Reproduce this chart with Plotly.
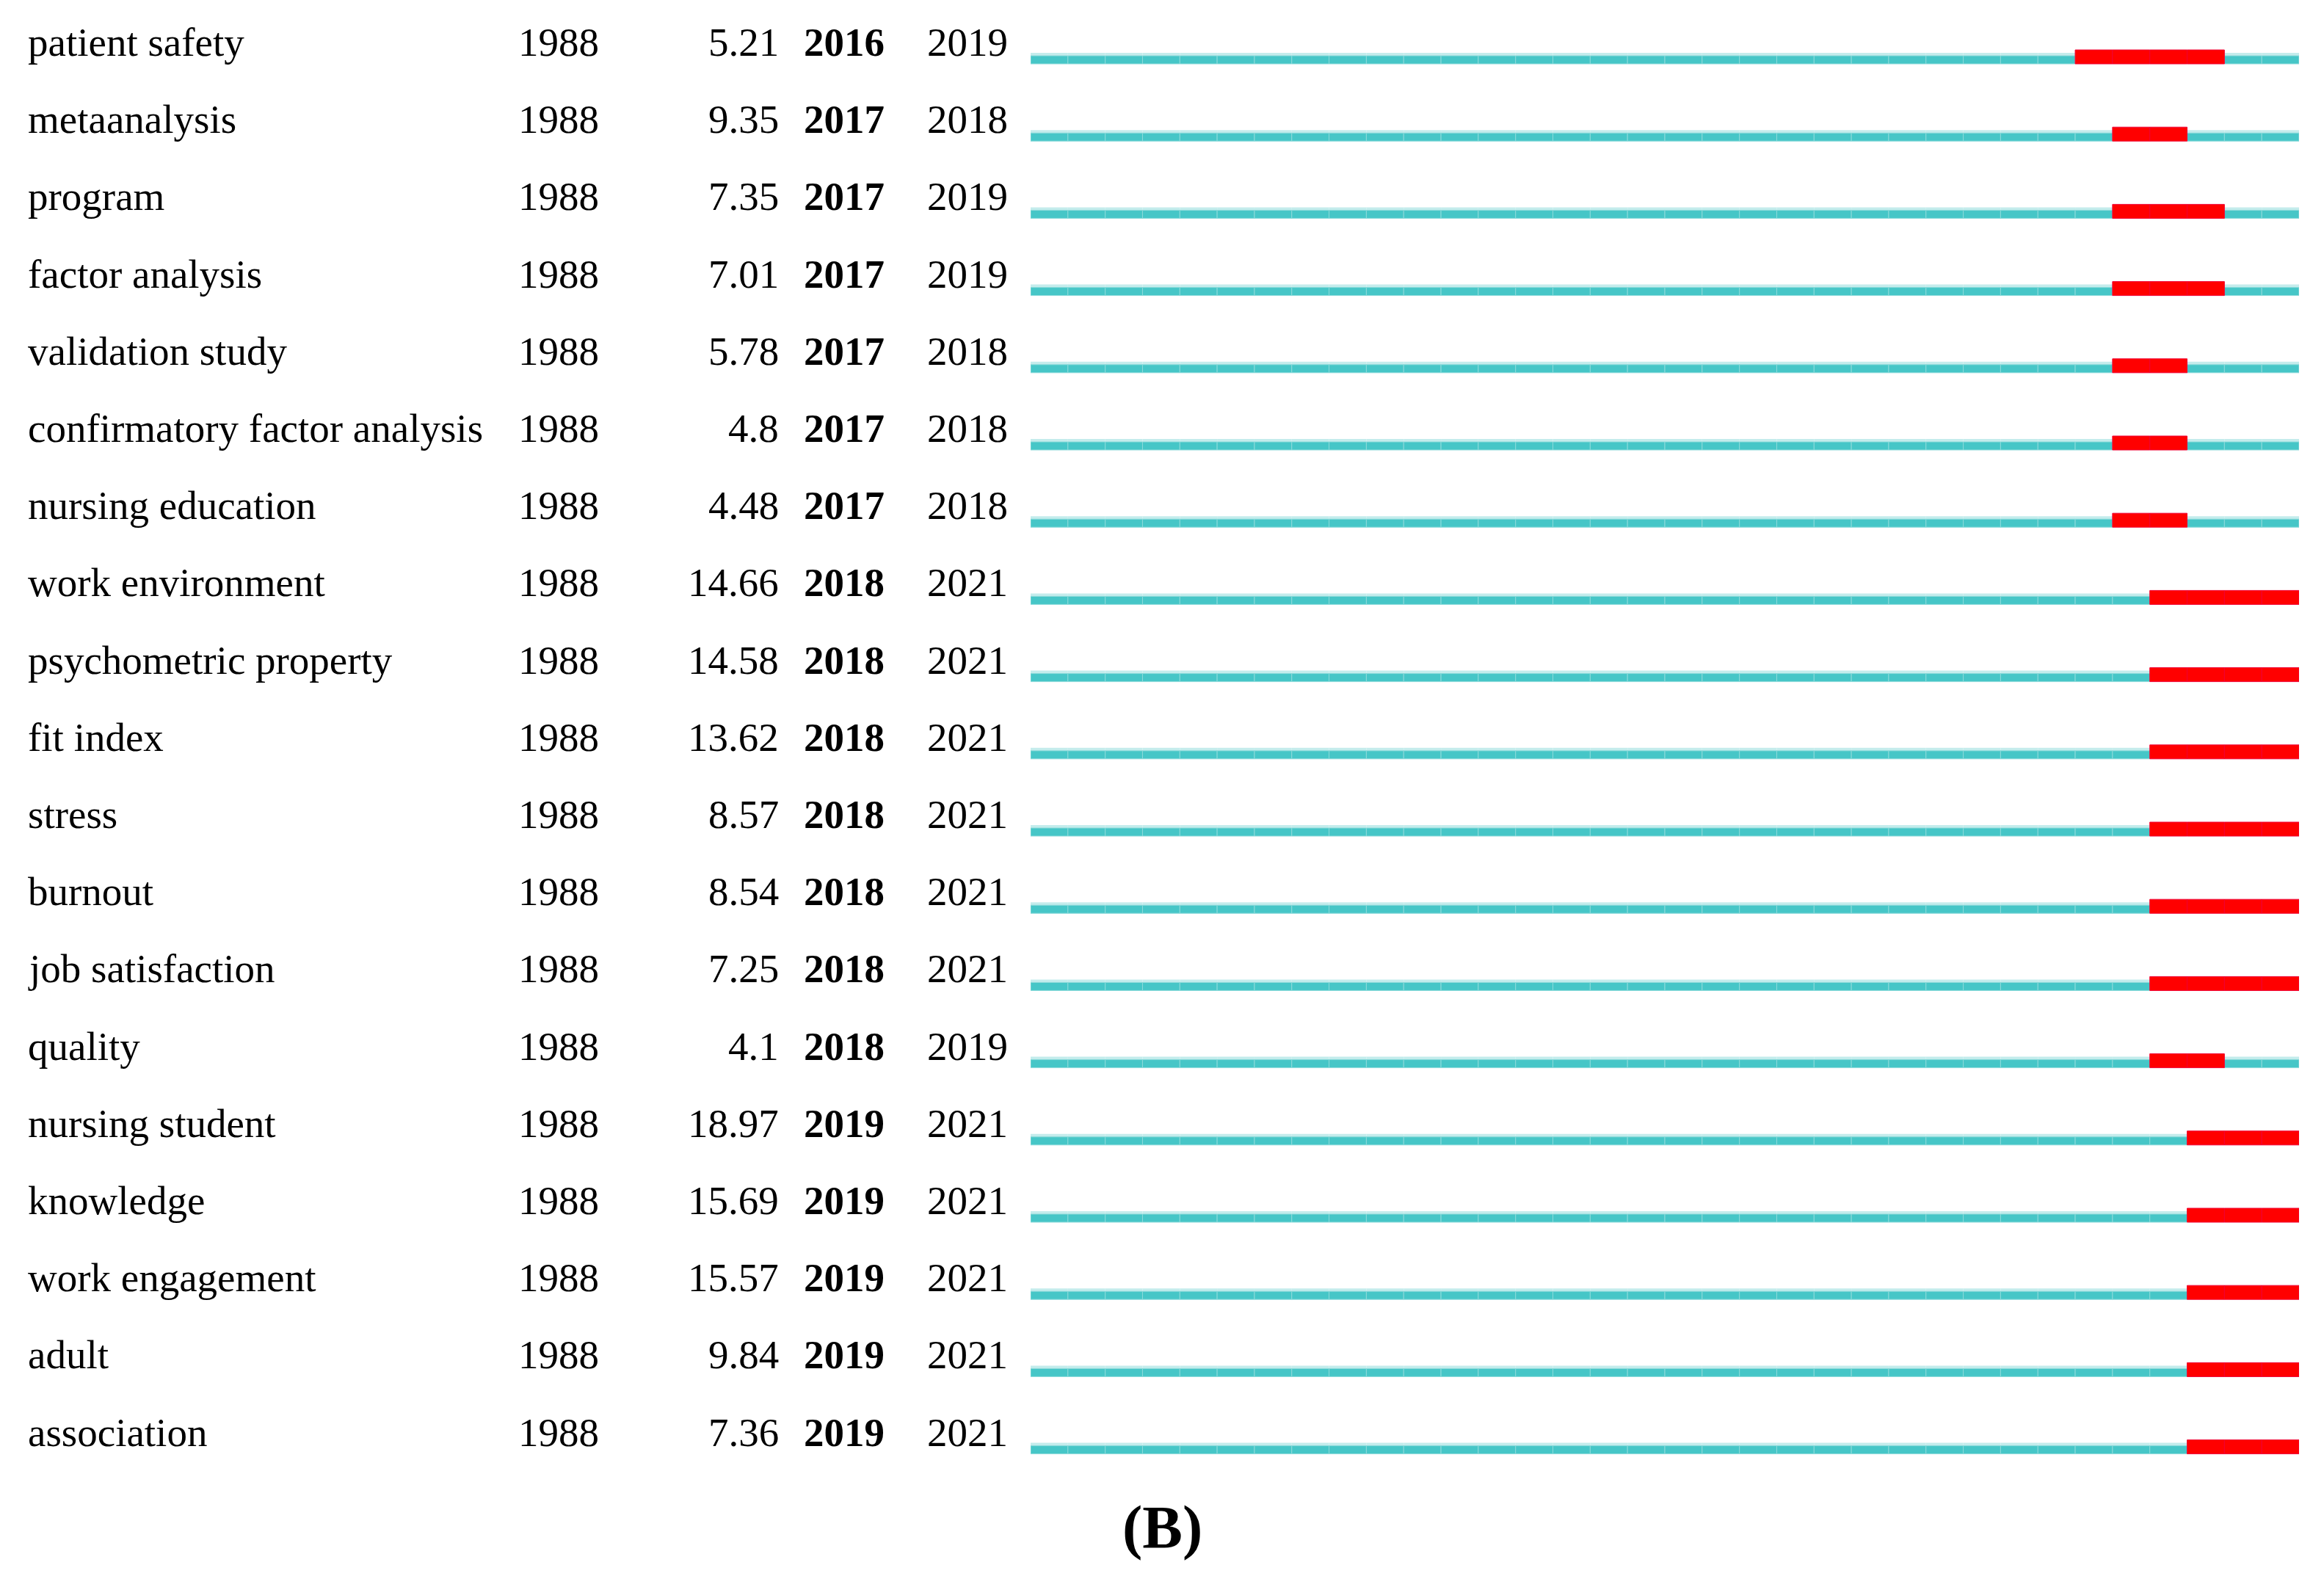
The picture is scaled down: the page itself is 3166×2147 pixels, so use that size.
import plotly.graph_objects as go

keywords = ["patient safety", "metaanalysis", "program", "factor analysis", "validation study",
            "confirmatory factor analysis", "nursing education", "work environment",
            "psychometric property", "fit index", "stress", "burnout", "job satisfaction",
            "quality", "nursing student", "knowledge", "work engagement", "adult", "association"]
first_year = [1988] * 19
strength = [5.21, 9.35, 7.35, 7.01, 5.78, 4.8, 4.48, 14.66, 14.58, 13.62, 8.57, 8.54, 7.25,
            4.1, 18.97, 15.69, 15.57, 9.84, 7.36]
begin = [2016, 2017, 2017, 2017, 2017, 2017, 2017, 2018, 2018, 2018, 2018, 2018, 2018, 2018,
         2019, 2019, 2019, 2019, 2019]
end = [2019, 2018, 2019, 2019, 2018, 2018, 2018, 2021, 2021, 2021, 2021, 2021, 2021, 2019,
       2021, 2021, 2021, 2021, 2021]
year_start, year_end = 1988, 2021

W, H = 3166, 2147
OFF = 8              # default body margin of the html page
FW, FH = W - 2 * OFF, H - 2 * OFF
ROW = 105.2          # px per row
ROW0 = 79.5          # page px of first row bar centre
FONT = "Liberation Serif, Times New Roman, serif"
FS = 55

TEAL = "rgb(70,198,199)"
TEAL_LIGHT = "rgb(196,236,236)"
RED = "rgb(255,0,0)"

teal_y, teal_base, red_y, red_base = [], [], [], []
for i in range(len(keywords)):
    for yr in range(year_start, year_end + 1):
        if begin[i] <= yr <= end[i]:
            red_y.append(i); red_base.append(yr)
        else:
            teal_y.append(i); teal_base.append(yr)


def px(v):
    return v / ROW


def fx(page_x):
    return (page_x - OFF) / FW


def fy(page_y):
    return 1 - (page_y - OFF) / FH


fig = go.Figure()
# light top band of the teal strip
fig.add_trace(go.Bar(orientation="h", y=teal_y, x=[1] * len(teal_y), base=teal_base,
                     width=px(15), offset=-px(7.5),
                     marker=dict(color=TEAL_LIGHT, line=dict(width=0)),
                     hoverinfo="skip", showlegend=False))
# solid teal strip
fig.add_trace(go.Bar(orientation="h", y=teal_y, x=[1] * len(teal_y), base=teal_base,
                     width=px(11), offset=-px(3.5),
                     marker=dict(color=TEAL, line=dict(color="rgb(140,218,218)", width=1)),
                     hoverinfo="skip", showlegend=False))
# red burst strip
fig.add_trace(go.Bar(orientation="h", y=red_y, x=[1] * len(red_y), base=red_base,
                     width=px(19), offset=-px(11.5),
                     marker=dict(color=RED, line=dict(color="rgb(240,0,50)", width=1)),
                     hoverinfo="skip", showlegend=False))

annotations = []
dy = 0.21
for i, kw in enumerate(keywords):
    yy = i - dy
    annotations.append(dict(x=fx(36), y=yy, xref="paper", yref="y", text=kw,
                            xanchor="left", yanchor="middle", showarrow=False,
                            font=dict(family=FONT, size=FS, color="black")))
    annotations.append(dict(x=fx(704), y=yy, xref="paper", yref="y", text=str(first_year[i]),
                            xanchor="left", yanchor="middle", showarrow=False,
                            font=dict(family=FONT, size=FS, color="black")))
    annotations.append(dict(x=fx(1063), y=yy, xref="paper", yref="y", text=str(strength[i]),
                            xanchor="right", yanchor="middle", showarrow=False,
                            font=dict(family=FONT, size=FS, color="black")))
    annotations.append(dict(x=fx(1093), y=yy, xref="paper", yref="y", text="<b>%d</b>" % begin[i],
                            xanchor="left", yanchor="middle", showarrow=False,
                            font=dict(family=FONT, size=FS, color="black")))
    annotations.append(dict(x=fx(1261), y=yy, xref="paper", yref="y", text=str(end[i]),
                            xanchor="left", yanchor="middle", showarrow=False,
                            font=dict(family=FONT, size=FS, color="black")))

annotations.append(dict(x=fx(1583), y=fy(2080), xref="paper", yref="paper", text="<b>(B)</b>",
                        xanchor="center", yanchor="middle", showarrow=False,
                        font=dict(family=FONT, size=82, color="black")))

ytop = -(ROW0 - OFF) / ROW
ybot = ytop + FH / ROW

fig.update_layout(
    width=FW, height=FH,
    margin=dict(l=0, r=0, t=0, b=0),
    paper_bgcolor="white", plot_bgcolor="white",
    barmode="overlay",
    xaxis=dict(domain=[fx(1404), fx(3132)], range=[year_start, year_end + 1],
               visible=False, fixedrange=True),
    yaxis=dict(range=[ybot, ytop], visible=False, fixedrange=True),
    annotations=annotations,
)

fig.write_html("out.html")
